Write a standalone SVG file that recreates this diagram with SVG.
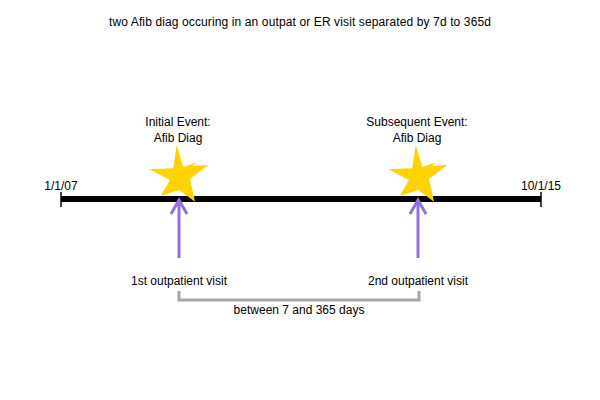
<svg xmlns="http://www.w3.org/2000/svg" width="600" height="400" viewBox="0 0 600 400">
  <style>
    text { font-family: "Liberation Sans", Arial, sans-serif; font-size: 12px; fill: #000; }
    .mid { text-anchor: middle; }
    .title { letter-spacing: 0.12px; }
    .star { fill: #FFD200; }
    .arrow { stroke: #9370DB; stroke-width: 3; fill: none; stroke-linecap: butt; }
    .bracket { stroke: #A6A6A6; stroke-width: 3; fill: none; }
  </style>
  <defs>
    <path id="star" class="star" d="M176.7,145 L183.3,167 L197,162.5 L193,166 L208.3,165 L190,179 L195,201.7 L179.3,190 L160.7,196 L170,180 L149.3,169.3 L173.3,168.3 Z"/>
  </defs>

  <rect width="600" height="400" fill="#fff"/>

  <text class="mid title" x="300" y="26">two Afib diag occuring in an outpat or ER visit separated by 7d to 365d</text>

  <g id="timeline">
    <line x1="61" y1="199" x2="541" y2="199" stroke="#000" stroke-width="6"/>
    <line x1="61" y1="192" x2="61" y2="207" stroke="#000" stroke-width="1.5"/>
    <line x1="541" y1="192" x2="541" y2="207" stroke="#000" stroke-width="1.5"/>
    <text class="mid" x="61" y="190">1/1/07</text>
    <text class="mid" x="541" y="190">10/1/15</text>
  </g>

  <g id="event1">
    <use href="#star"/>
    <text class="mid" x="178" y="126">Initial Event:</text>
    <text class="mid" x="178" y="142">Afib Diag</text>
  </g>

  <g id="event2">
    <use href="#star" transform="translate(239,0)"/>
    <text class="mid" x="417" y="126">Subsequent Event:</text>
    <text class="mid" x="417" y="142">Afib Diag</text>
  </g>

  <g id="connectors">
    <path class="arrow" d="M179,258 L179,201 M171,214 L179,200 L187,214"/>
    <path class="arrow" d="M418,258 L418,201 M410,214 L418,200 L426,214"/>
    <path class="bracket" d="M179,291 L179,300 L419,300 L419,291"/>
  </g>

  <g id="visit1">
    <text class="mid" x="179" y="285">1st outpatient visit</text>
  </g>
  <g id="visit2">
    <text class="mid" x="418" y="285">2nd outpatient visit</text>
  </g>
  <g id="interval">
    <text class="mid" x="299" y="314">between 7 and 365 days</text>
  </g>
</svg>
